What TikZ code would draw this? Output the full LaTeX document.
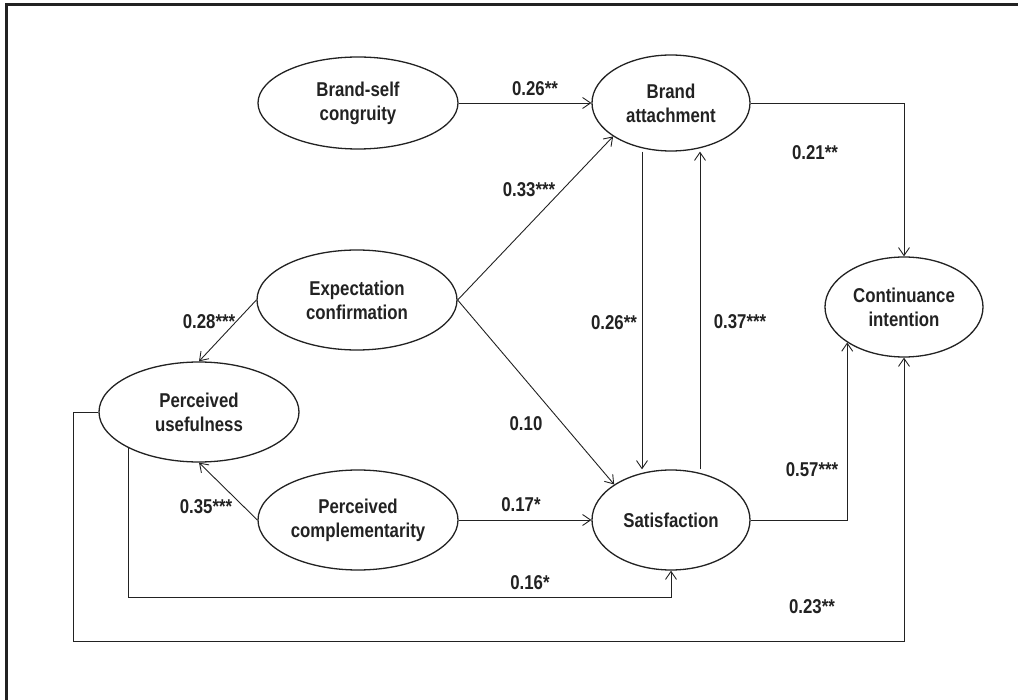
\documentclass[tikz,border=0pt]{standalone}
\usepackage{fontspec}
\newfontfamily\labfont{Liberation Sans}[FakeStretch=0.84]
\usetikzlibrary{arrows.meta,shapes.geometric}
\definecolor{ink}{HTML}{222222}
\begin{document}
\begin{tikzpicture}[x=1pt,y=-1pt,
  lv/.style={ellipse,draw=ink,line width=1.3pt,fill=white,inner sep=0pt,align=center,
     font=\labfont\bfseries\fontsize{20}{24}\selectfont,text=ink},
  lab/.style={inner sep=0pt,font=\labfont\bfseries\fontsize{20}{24}\selectfont,text=ink},
  arr/.style={draw=ink,line width=0.9pt,-{Straight Barb[length=8pt,width=11pt]}}]
\useasboundingbox (0,0) rectangle (1018,700);
\draw[line width=3pt,ink] (6,700) -- (6,5) -- (1018,5);

\node[lv,minimum width=200pt,minimum height=92pt] (bsc) at (358,103) {Brand-self\\congruity};
\node[lv,minimum width=158pt,minimum height=96pt] (ba) at (671,103) {Brand\\attachment};
\node[lv,minimum width=200pt,minimum height=100pt] (ec) at (357,300) {Expectation\\confirmation};
\node[lv,minimum width=200pt,minimum height=100pt] (pu) at (199,412) {Perceived\\usefulness};
\node[lv,minimum width=200pt,minimum height=100pt] (pc) at (358,520) {Perceived\\complementarity};
\node[lv,minimum width=158pt,minimum height=100pt] (sat) at (671,520) {Satisfaction};
\node[lv,minimum width=158pt,minimum height=100pt] (ci) at (904,307) {Continuance\\intention};

\coordinate (c1) at (0,597);
\coordinate (c2) at (73,641);

\draw[arr] (bsc.east) -- (ba.west);
\draw[arr] (ba.east) -| (ci.north);
\draw[arr] (ec.east) -- (ba.210);
\draw[arr] (ec.east) -- (sat.148);
\draw[arr] ([xshift=-29pt]ba.south) -- ([xshift=-29pt]sat.north);
\draw[arr] ([xshift=29pt]sat.north) -- ([xshift=29pt]ba.south);
\draw[arr] (ec.west) -- (pu.north);
\draw[arr] (pc.west) -- (pu.south);
\draw[arr] (pc.east) -- (sat.west);
\draw[arr] (sat.east) -| (ci.212);
\draw[arr] (pu.207) -- (pu.207 |- c1) -| (sat.south);
\draw[arr] (pu.west) -| (c2) -| (ci.south);

\node[lab] (l1) at (535,89) {0.26**};
\node[lab] (l2) at (815,153) {0.21**};
\node[lab] (l3) at (529,190) {0.33***};
\node[lab] (l4) at (209,322) {0.28***};
\node[lab] (l5) at (614,323) {0.26**};
\node[lab] (l6) at (740,322) {0.37***};
\node[lab] (l7) at (526,424) {0.10};
\node[lab] (l8) at (206,507) {0.35***};
\node[lab] (l9) at (521,505) {0.17*};
\node[lab] (l10) at (812,470) {0.57***};
\node[lab] (l11) at (530,583) {0.16*};
\node[lab] (l12) at (812,607) {0.23**};
\end{tikzpicture}
\end{document}
